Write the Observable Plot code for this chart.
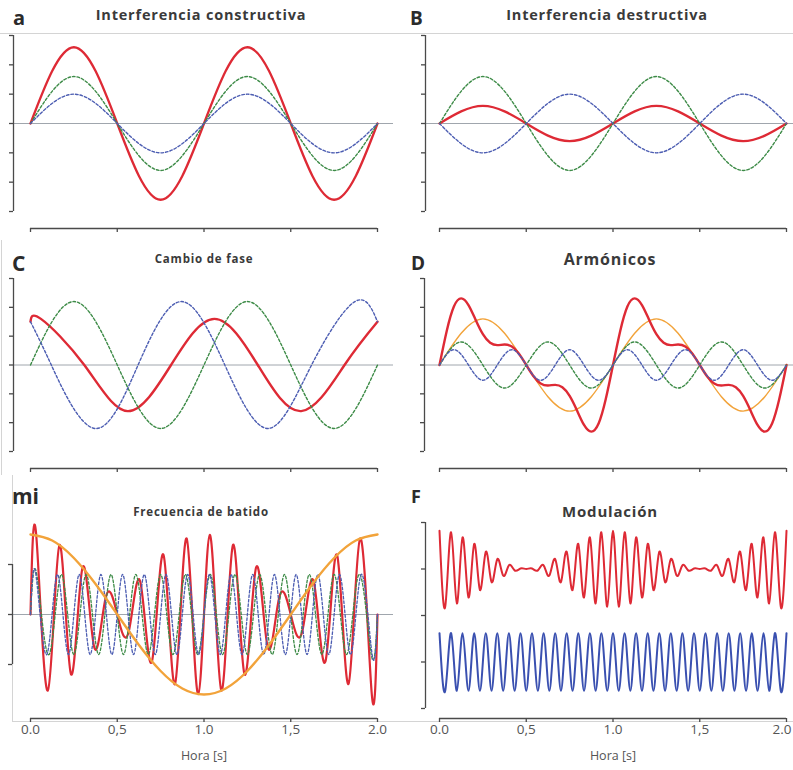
<!DOCTYPE html>
<html><head><meta charset="utf-8">
<script src="https://cdn.jsdelivr.net/npm/d3@7"></script>
<script src="https://cdn.jsdelivr.net/npm/@observablehq/plot@0.6"></script>
<style>
body{margin:0;background:#fff;}
#wrap{position:relative;width:793px;height:770px;overflow:hidden;font-family:"Open Sans",sans-serif;background:#fff;}
#wrap svg{position:absolute;left:0;top:0;}
.lbl{position:absolute;white-space:nowrap;font-weight:700;color:#2b2b2b;transform:translateY(-50%);line-height:1;}
.ttl{position:absolute;white-space:nowrap;font-weight:700;color:#3a3a3a;transform:translate(-50%,-50%);line-height:1;letter-spacing:0.8px;}
.deco{position:absolute;background:#d4d4d4;}
</style></head><body><div id="wrap"></div>
<script>
// ---------- data ----------
const xTicks = [0, 0.5, 1, 1.5, 2];
const xTickLabels = ["0.0", "0,5", "1.0", "1,5", "2.0"];
const xTitle = "Hora [s]";
const panelLetters = ["a", "B", "C", "D", "mi", "F"];
const panelTitles = ["Interferencia constructiva", "Interferencia destructiva", "Cambio de fase", "Armónicos", "Frecuencia de batido", "Modulación"];

const tQuarter = [0, 0.25, 0.5, 0.75, 1, 1.25, 1.5, 1.75, 2];
// a: constructive
const aRed   = [0, 2.6, 0, -2.6, 0, 2.6, 0, -2.6, 0];
const aGreen = [0, 1.6, 0, -1.6, 0, 1.6, 0, -1.6, 0];
const aBlue  = [0, 1.0, 0, -1.0, 0, 1.0, 0, -1.0, 0];
// B: destructive
const bGreen = [0, 1.6, 0, -1.6, 0, 1.6, 0, -1.6, 0];
const bBlue  = [0, -1.0, 0, 1.0, 0, -1.0, 0, 1.0, 0];
const bRed   = [0, 0.6, 0, -0.6, 0, 0.6, 0, -0.6, 0];
// C: phase shift
const cGreen = [0, 2.2, 0, -2.2, 0, 2.2, 0, -2.2, 0];
const cBlueT = [0, 0.12, 0.37, 0.62, 0.87, 1.12, 1.37, 1.62, 1.87, 2];
const cBlue  = [1.5, 0, -2.2, 0, 2.2, 0, -2.2, 0, 2.2, 1.5];
const cRedT  = [0, 0.06, 0.31, 0.56, 0.81, 1.06, 1.31, 1.56, 1.81, 2];
const cRed   = [1.5, 1.6, 0, -1.6, 0, 1.6, 0, -1.6, 0, 1.5];
// D: harmonics
const dOrange = [0, 1.6, 0, -1.6, 0, 1.6, 0, -1.6, 0];
const dGreenT = [0, 0.125, 0.25, 0.375, 0.5, 0.625, 0.75, 0.875, 1, 1.125, 1.25, 1.375, 1.5, 1.625, 1.75, 1.875, 2];
const dGreen  = [0, 0.8, 0, -0.8, 0, 0.8, 0, -0.8, 0, 0.8, 0, -0.8, 0, 0.8, 0, -0.8, 0];
const dBlueT = [0, 0.083, 0.167, 0.25, 0.333, 0.417, 0.5, 0.583, 0.667, 0.75, 0.833, 0.917, 1, 1.083, 1.167, 1.25, 1.333, 1.417, 1.5, 1.583, 1.667, 1.75, 1.833, 1.917, 2];
const dBlue  = [0, 0.53, 0, -0.53, 0, 0.53, 0, -0.53, 0, 0.53, 0, -0.53, 0, 0.53, 0, -0.53, 0, 0.53, 0, -0.53, 0, 0.53, 0, -0.53, 0];
const dRedT = [0, 0.042, 0.083, 0.125, 0.167, 0.208, 0.25, 0.292, 0.333, 0.375, 0.417, 0.458, 0.5, 0.542, 0.583, 0.625, 0.667, 0.708, 0.75, 0.792, 0.833, 0.875, 0.917, 0.958,
  1, 1.042, 1.083, 1.125, 1.167, 1.208, 1.25, 1.292, 1.333, 1.375, 1.417, 1.458, 1.5, 1.542, 1.583, 1.625, 1.667, 1.708, 1.75, 1.792, 1.833, 1.875, 1.917, 1.958, 2];
const dRed = [0, 1.19, 2.03, 2.31, 2.08, 1.57, 1.07, 0.77, 0.69, 0.71, 0.64, 0.39, 0, -0.39, -0.64, -0.71, -0.69, -0.77, -1.07, -1.57, -2.08, -2.31, -2.03, -1.19,
  0, 1.19, 2.03, 2.31, 2.08, 1.57, 1.07, 0.77, 0.69, 0.71, 0.64, 0.39, 0, -0.39, -0.64, -0.71, -0.69, -0.77, -1.07, -1.57, -2.08, -2.31, -2.03, -1.19, 0];
// E: beat frequency
const eEnvT = [0, 0.125, 0.25, 0.375, 0.5, 0.625, 0.75, 0.875, 1, 1.125, 1.25, 1.375, 1.5, 1.625, 1.75, 1.875, 2];
const eEnv  = [1.6, 1.48, 1.13, 0.61, 0, -0.61, -1.13, -1.48, -1.6, -1.48, -1.13, -0.61, 0, 0.61, 1.13, 1.48, 1.6];
const eRedT = [0, 0.033, 0.1, 0.167, 0.233, 0.3, 0.367, 0.433, 0.5, 0.567, 0.633, 0.7, 0.767, 0.833, 0.9, 0.967,
  1.033, 1.1, 1.167, 1.233, 1.3, 1.367, 1.433, 1.5, 1.567, 1.633, 1.7, 1.767, 1.833, 1.9, 1.967, 2];
const eRed = [0, 1.59, -1.52, 1.39, -1.19, 0.94, -0.65, 0.33, 0, -0.33, 0.65, -0.94, 1.19, -1.39, 1.52, -1.59,
  1.59, -1.52, 1.39, -1.19, 0.94, -0.65, 0.33, 0, -0.33, 0.65, -0.94, 1.19, -1.39, 1.52, -1.59, 0];
const eGreenT = [0, 0.036, 0.107, 0.179, 0.25, 0.321, 0.393, 0.464, 0.536, 0.607, 0.679, 0.75, 0.821, 0.893, 0.964,
  1.036, 1.107, 1.179, 1.25, 1.321, 1.393, 1.464, 1.536, 1.607, 1.679, 1.75, 1.821, 1.893, 1.964, 2];
const eGreen = [0, 0.8, -0.8, 0.8, -0.8, 0.8, -0.8, 0.8, -0.8, 0.8, -0.8, 0.8, -0.8, 0.8, -0.8,
  0.8, -0.8, 0.8, -0.8, 0.8, -0.8, 0.8, -0.8, 0.8, -0.8, 0.8, -0.8, 0.8, -0.8, 0];
const eBlueT = [0, 0.031, 0.094, 0.156, 0.219, 0.281, 0.344, 0.406, 0.469, 0.531, 0.594, 0.656, 0.719, 0.781, 0.844, 0.906, 0.969,
  1.031, 1.094, 1.156, 1.219, 1.281, 1.344, 1.406, 1.469, 1.531, 1.594, 1.656, 1.719, 1.781, 1.844, 1.906, 1.969, 2];
const eBlue = [0, 0.8, -0.8, 0.8, -0.8, 0.8, -0.8, 0.8, -0.8, 0.8, -0.8, 0.8, -0.8, 0.8, -0.8, 0.8, -0.8,
  0.8, -0.8, 0.8, -0.8, 0.8, -0.8, 0.8, -0.8, 0.8, -0.8, 0.8, -0.8, 0.8, -0.8, 0.8, -0.8, 0];
// F: modulation (upper trace around +1, lower trace around -1)
const fT = [0, 0.033, 0.067, 0.1, 0.133, 0.167, 0.2, 0.233, 0.267, 0.3, 0.333, 0.367, 0.4, 0.433, 0.467, 0.5, 0.533, 0.567, 0.6, 0.633,
  0.667, 0.7, 0.733, 0.767, 0.8, 0.833, 0.867, 0.9, 0.933, 0.967, 1, 1.033, 1.067, 1.1, 1.133, 1.167, 1.2, 1.233, 1.267, 1.3,
  1.333, 1.367, 1.4, 1.433, 1.467, 1.5, 1.533, 1.567, 1.6, 1.633, 1.667, 1.7, 1.733, 1.767, 1.8, 1.833, 1.867, 1.9, 1.933, 1.967, 2];
const fRed = [1.82, 0.19, 1.79, 0.26, 1.68, 0.39, 1.54, 0.55, 1.37, 0.72, 1.21, 0.86, 1.08, 0.97, 1.01, 1.0, 1.01, 0.97, 1.08, 0.86,
  1.21, 0.72, 1.37, 0.55, 1.54, 0.39, 1.68, 0.26, 1.79, 0.19, 1.82, 0.19, 1.79, 0.26, 1.68, 0.39, 1.54, 0.55, 1.37, 0.72,
  1.21, 0.86, 1.08, 0.97, 1.01, 1.0, 1.01, 0.97, 1.08, 0.86, 1.21, 0.72, 1.37, 0.55, 1.54, 0.39, 1.68, 0.26, 1.79, 0.19, 1.82];
const fBlue = [-0.38, -1.62, -0.38, -1.62, -0.38, -1.62, -0.38, -1.62, -0.38, -1.62, -0.38, -1.62, -0.38, -1.62, -0.38, -1.62, -0.38, -1.62, -0.38, -1.62,
  -0.38, -1.62, -0.38, -1.62, -0.38, -1.62, -0.38, -1.62, -0.38, -1.62, -0.38, -1.62, -0.38, -1.62, -0.38, -1.62, -0.38, -1.62, -0.38, -1.62,
  -0.38, -1.62, -0.38, -1.62, -0.38, -1.62, -0.38, -1.62, -0.38, -1.62, -0.38, -1.62, -0.38, -1.62, -0.38, -1.62, -0.38, -1.62, -0.38, -1.62, -0.38];

// ---------- styles ----------
const RED = "#de2a35", GREEN = "#3d8b47", BLUE = "#4c5db2", ORANGE = "#f2a33a", AXIS = "#4a4a4a", ZERO = "#a0a6ad";
const DASH = "2.6,2";
const rows = (t, y) => t.map((d, i) => ({t: d, y: y[i]}));
const tickLabel = (d) => xTickLabels[xTicks.indexOf(d)];

const W = 793, H = 770;
const wrap = document.getElementById("wrap");

function panel(o) {
  const xDomain = [0, 2];
  const marks = [];
  if (o.zero) marks.push(Plot.ruleY([0], {stroke: ZERO, strokeWidth: 1}));
  // y axis
  marks.push(Plot.ruleX([xDomain[0]], {y1: o.yDomain[0], y2: o.yDomain[1], dx: o.left - o.xRange[0], stroke: AXIS, strokeWidth: 1.3}));
  marks.push(Plot.axisY({ticks: o.yTicks, tickSize: 4, tickFormat: () => "", stroke: AXIS, strokeWidth: 1.3, label: null}));
  // x axis
  marks.push(Plot.ruleY([o.yDomain[0]], {x1: xDomain[0], x2: xDomain[1], dy: o.bottom - o.yRange[0], stroke: AXIS, strokeWidth: 1.3}));
  marks.push(Plot.axisX({ticks: xTicks, tickSize: 4, stroke: AXIS, strokeWidth: 1.3, tickFormat: () => "", label: null}));
  if (o.labels) {
    const lastEnd = o.xRange[1] > W - 12;
    const main = lastEnd ? xTicks.slice(0, -1) : xTicks;
    marks.push(Plot.text(main, {x: d => d, text: tickLabel, frameAnchor: "bottom", dy: 15, fontSize: 13.5, fill: "#555"}));
    if (lastEnd) marks.push(Plot.text(xTicks.slice(-1), {x: d => d, text: tickLabel, frameAnchor: "bottom", dy: 15, dx: 5, textAnchor: "end", fontSize: 13.5, fill: "#555"}));
    marks.push(Plot.text([xTitle], {x: () => (xDomain[0] + xDomain[1]) / 2, text: d => d, frameAnchor: "bottom", dy: 41, fontSize: 12.5, fill: "#555"}));
  }
  for (const s of o.series) {
    marks.push(Plot.line(rows(s.t, s.y), {x: "t", y: "y", curve: "natural", stroke: s.color, strokeWidth: s.width, strokeDasharray: s.dash}));
  }
  const svg = Plot.plot({
    width: W, height: H,
    marginLeft: o.left, marginRight: W - o.right, marginTop: o.yRange[1], marginBottom: H - o.bottom,
    x: {domain: xDomain, range: o.xRange, axis: null},
    y: {domain: o.yDomain, range: o.yRange, axis: null},
    style: {background: "none", overflow: "visible", fontFamily: "'Open Sans', sans-serif"},
    marks
  });
  wrap.appendChild(svg);
}

const L = [30, 377], R = [439, 786];
panel({xRange: L, left: 13, right: 393, bottom: 228, yDomain: [-3, 3], yRange: [211, 35], yTicks: [-3, -2, -1, 0, 1, 2, 3], zero: true,
  series: [
    {t: tQuarter, y: aRed, color: RED, width: 2.3},
    {t: tQuarter, y: aGreen, color: GREEN, width: 1.4, dash: DASH},
    {t: tQuarter, y: aBlue, color: BLUE, width: 1.4, dash: DASH}
  ]});
panel({xRange: R, left: 425, right: 793, bottom: 228, yDomain: [-3, 3], yRange: [211, 35], yTicks: [-3, -2, -1, 0, 1, 2, 3], zero: true,
  series: [
    {t: tQuarter, y: bRed, color: RED, width: 2.3},
    {t: tQuarter, y: bGreen, color: GREEN, width: 1.4, dash: DASH},
    {t: tQuarter, y: bBlue, color: BLUE, width: 1.4, dash: DASH}
  ]});
panel({xRange: L, left: 13, right: 393, bottom: 468, yDomain: [-3, 3], yRange: [451, 278], yTicks: [-3, -2, -1, 0, 1, 2, 3], zero: true,
  series: [
    {t: cRedT, y: cRed, color: RED, width: 2.4},
    {t: tQuarter, y: cGreen, color: GREEN, width: 1.4, dash: DASH},
    {t: cBlueT, y: cBlue, color: BLUE, width: 1.4, dash: DASH}
  ]});
panel({xRange: R, left: 424, right: 793, bottom: 468, yDomain: [-3, 3], yRange: [451, 278], yTicks: [-3, -2, -1, 0, 1, 2, 3], zero: true,
  series: [
    {t: tQuarter, y: dOrange, color: ORANGE, width: 1.4},
    {t: dRedT, y: dRed, color: RED, width: 2.4},
    {t: dGreenT, y: dGreen, color: GREEN, width: 1.4, dash: DASH},
    {t: dBlueT, y: dBlue, color: BLUE, width: 1.4, dash: DASH}
  ]});
panel({xRange: L, left: 12, right: 393, bottom: 718, yDomain: [-1, 1], yRange: [664, 564], yTicks: [-1, 0, 1], zero: true, labels: true,
  series: [
    {t: eRedT, y: eRed, color: RED, width: 2.2},
    {t: eGreenT, y: eGreen, color: GREEN, width: 1.3, dash: DASH},
    {t: eBlueT, y: eBlue, color: BLUE, width: 1.3, dash: DASH},
    {t: eEnvT, y: eEnv, color: ORANGE, width: 2.4}
  ]});
panel({xRange: R, left: 425, right: 793, bottom: 718, yDomain: [-2, 2], yRange: [708, 522], yTicks: [-2, -1, 0, 1, 2], zero: false, labels: true,
  series: [
    {t: fT, y: fRed, color: RED, width: 2},
    {t: fT, y: fBlue, color: "#3a50b0", width: 2}
  ]});

// ---------- text ----------
function addText(cls, txt, x, y, size) {
  const d = document.createElement("div");
  d.className = cls; d.textContent = txt;
  d.style.left = x + "px"; d.style.top = y + "px"; d.style.fontSize = size + "px";
  wrap.appendChild(d);
}
addText("lbl", panelLetters[0], 13, 18, 20);
addText("lbl", panelLetters[1], 410, 18, 19);
addText("lbl", panelLetters[2], 12, 263, 21);
addText("lbl", panelLetters[3], 411, 263, 19);
addText("lbl", panelLetters[4], 12, 496, 21);
addText("lbl", panelLetters[5], 411, 496, 18);
addText("ttl", panelTitles[0], 201, 15, 14.5);
addText("ttl", panelTitles[1], 607, 15, 14.5);
addText("ttl", panelTitles[2], 204, 259, 11.5);
addText("ttl", panelTitles[3], 610, 259, 16);
addText("ttl", panelTitles[4], 201, 512, 11.5);
addText("ttl", panelTitles[5], 610, 511, 15);

// light frame lines of the figure
function deco(l, t, w, h) { const d = document.createElement("div"); d.className = "deco"; Object.assign(d.style, {left: l + "px", top: t + "px", width: w + "px", height: h + "px"}); wrap.insertBefore(d, wrap.firstChild); }
deco(0, 33, 793, 1);
deco(12, 721, 781, 1);
deco(12, 475, 1, 246);
deco(1, 240, 1, 235);
</script></body></html>
